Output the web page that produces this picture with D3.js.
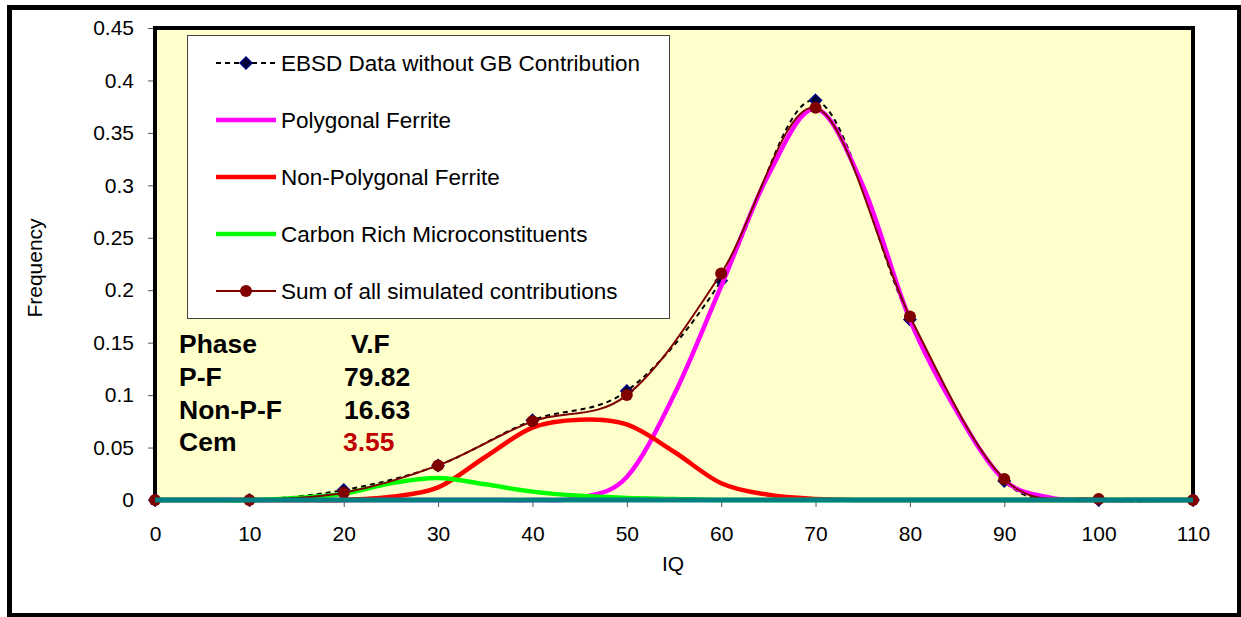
<!DOCTYPE html>
<html>
<head>
<meta charset="utf-8">
<script src="https://cdn.jsdelivr.net/npm/d3@7"></script>
<style>
  body { margin: 0; background: #fff; }
  svg { display: block; font-family: Arial, "Liberation Sans", sans-serif; }
</style>
</head>
<body>
<svg width="1241" height="617"></svg>
<script>
// data
const iq10 = [0, 10, 20, 30, 40, 50, 60, 70, 80, 90, 100, 110]
const ebsd = [0, 0, 0.0095, 0.033, 0.076, 0.104, 0.209, 0.381, 0.172, 0.018, 0, 0]
const simSum = [0, 0, 0.007, 0.033, 0.075, 0.1, 0.216, 0.374, 0.175, 0.02, 0.001, 0]

const iq5 = [0, 5, 10, 15, 20, 25, 30, 35, 40, 45, 50, 55, 60, 65, 70, 75, 80, 85, 90, 95, 100, 105, 110]
const polyFerrite = [0, 0, 0, 0, 0, 0, 0, 0, 0, 0.002, 0.022, 0.1, 0.204, 0.31, 0.373, 0.3, 0.172, 0.084, 0.019, 0.002, 0, 0, 0]
const nonPolyFerrite = [0, 0, 0, 0, 0, 0.003, 0.012, 0.041, 0.069, 0.0765, 0.072, 0.046, 0.016, 0.005, 0.001, 0, 0, 0, 0, 0, 0, 0, 0]
const carbonRich = [0, 0, 0, 0.002, 0.006, 0.016, 0.021, 0.015, 0.008, 0.004, 0.002, 0.001, 0, 0, 0, 0, 0, 0, 0, 0, 0, 0, 0]

const yTicks = [0, 0.05, 0.1, 0.15, 0.2, 0.25, 0.3, 0.35, 0.4, 0.45]
const xTicks = [0, 10, 20, 30, 40, 50, 60, 70, 80, 90, 100, 110]

const legendNames = ["EBSD Data without GB Contribution", "Polygonal Ferrite",
  "Non-Polygonal Ferrite", "Carbon Rich Microconstituents", "Sum of all simulated contributions"]

const phases = ["P-F", "Non-P-F", "Cem"]
const volFractions = ["79.82", "16.63", "3.55"]

const svg = d3.select("svg")

const x = d3.scaleLinear().domain([0, 110]).range([155, 1193])
const y = d3.scaleLinear().domain([0, 0.45]).range([500, 28])

// outer frame
svg.append("rect")
  .attr("x", 9.5).attr("y", 7.5).attr("width", 1230).attr("height", 608)
  .attr("fill", "#fff").attr("stroke", "#000").attr("stroke-width", 5)

// plot area
svg.append("rect")
  .attr("x", x(0)).attr("y", y(0.45)).attr("width", x(110) - x(0)).attr("height", y(0) - y(0.45))
  .attr("fill", "#ffffcc").attr("stroke", "#000").attr("stroke-width", 4)

// axes
const yAxis = svg.append("g")
  .attr("transform", `translate(${x(0) - 2},0)`)
  .call(d3.axisLeft(y).tickValues(yTicks).tickSize(5).tickPadding(14)
    .tickFormat(d => String(+d.toFixed(2))))
yAxis.select(".domain").remove()
yAxis.selectAll("text").attr("font-size", 21).attr("fill", "#000").attr("font-family", "Arial, 'Liberation Sans', sans-serif")
yAxis.selectAll("line").attr("stroke", "#555")

const xAxis = svg.append("g")
  .attr("transform", `translate(0,${y(0) + 2})`)
  .call(d3.axisBottom(x).tickValues(xTicks).tickSize(5).tickPadding(19))
xAxis.select(".domain").remove()
xAxis.selectAll("text").attr("font-size", 21).attr("fill", "#000").attr("font-family", "Arial, 'Liberation Sans', sans-serif")
xAxis.selectAll("line").attr("stroke", "#555")

svg.append("text")
  .attr("transform", "translate(42,268) rotate(-90)")
  .attr("text-anchor", "middle").attr("font-size", 21).text("Frequency")
svg.append("text")
  .attr("x", 673).attr("y", 571).attr("text-anchor", "middle").attr("font-size", 21).text("IQ")

// series
const smooth = d3.curveCardinal.tension(0)
const lineOf = (xs, ys) => d3.line().curve(smooth).x((d, i) => x(xs[i])).y(d => y(d))(ys)

const plot = svg.append("g")

plot.append("path").attr("d", lineOf(iq10, ebsd))
  .attr("fill", "none").attr("stroke", "#000").attr("stroke-width", 2).attr("stroke-dasharray", "5,4")
plot.selectAll(".diamond").data(ebsd).join("path")
  .attr("class", "diamond")
  .attr("d", d3.symbol(d3.symbolDiamond2, 90))
  .attr("transform", (d, i) => `translate(${x(iq10[i])},${y(d)})`)
  .attr("fill", "#000033").attr("stroke", "#000080").attr("stroke-width", 1.5)

plot.append("path").attr("d", lineOf(iq5, polyFerrite))
  .attr("fill", "none").attr("stroke", "#ff00ff").attr("stroke-width", 4.5)
plot.append("path").attr("d", lineOf(iq5, nonPolyFerrite))
  .attr("fill", "none").attr("stroke", "#ff0000").attr("stroke-width", 4.5)
plot.append("path").attr("d", lineOf(iq5, carbonRich))
  .attr("fill", "none").attr("stroke", "#00ff00").attr("stroke-width", 4.5)

plot.append("path").attr("d", lineOf(iq10, simSum))
  .attr("fill", "none").attr("stroke", "#800000").attr("stroke-width", 2)
plot.selectAll(".dot").data(simSum).join("circle")
  .attr("class", "dot")
  .attr("cx", (d, i) => x(iq10[i])).attr("cy", d => y(d)).attr("r", 6)
  .attr("fill", "#800000")

// zero line
plot.append("line")
  .attr("x1", x(0)).attr("x2", x(110)).attr("y1", y(0)).attr("y2", y(0))
  .attr("stroke", "#008080").attr("stroke-width", 5)

// legend
const lg = svg.append("g")
lg.append("rect").attr("x", 187.5).attr("y", 35.5).attr("width", 482).attr("height", 283)
  .attr("fill", "#fff").attr("stroke", "#444").attr("stroke-width", 1)
const rowY = i => 63 + i * 57
const styles = [
  { stroke: "#000", width: 2, dash: "5,4" },
  { stroke: "#ff00ff", width: 4.5 },
  { stroke: "#ff0000", width: 4.5 },
  { stroke: "#00ff00", width: 4.5 },
  { stroke: "#800000", width: 2 }
]
legendNames.forEach((name, i) => {
  lg.append("line").attr("x1", 216).attr("x2", 276).attr("y1", rowY(i)).attr("y2", rowY(i))
    .attr("stroke", styles[i].stroke).attr("stroke-width", styles[i].width)
    .attr("stroke-dasharray", styles[i].dash || null)
  lg.append("text").attr("x", 281).attr("y", rowY(i) + 8).attr("font-size", 22.5).text(name)
})
lg.append("path").attr("d", d3.symbol(d3.symbolDiamond2, 90))
  .attr("transform", `translate(246,${rowY(0)})`)
  .attr("fill", "#000033").attr("stroke", "#000080").attr("stroke-width", 1.5)
lg.append("circle").attr("cx", 246).attr("cy", rowY(4)).attr("r", 6).attr("fill", "#800000")

// volume fraction table
const tb = svg.append("g").attr("font-weight", "bold").attr("font-size", 26.5)
tb.append("text").attr("x", 179).attr("y", 353).text("Phase")
tb.append("text").attr("x", 351).attr("y", 353).text("V.F")
phases.forEach((p, i) => {
  const by = 386 + i * 32.7
  tb.append("text").attr("x", 179).attr("y", by).text(p)
  tb.append("text").attr("x", i === 2 ? 343 : 344).attr("y", by)
    .attr("fill", i === 2 ? "#c00000" : "#000").text(volFractions[i])
})
</script>
</body>
</html>
